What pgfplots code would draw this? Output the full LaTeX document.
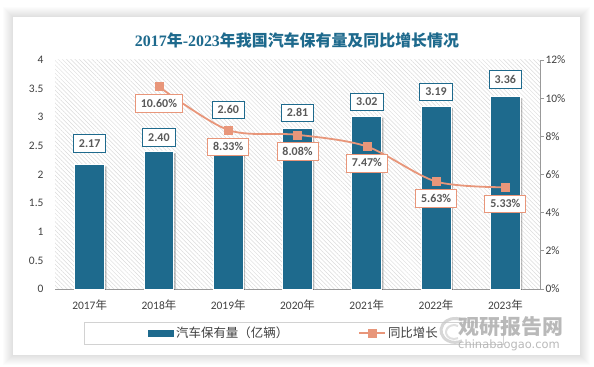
\documentclass[border=0pt]{standalone}
\usepackage{fontspec}
\setmainfont{Carlito}
\newfontfamily\cjk{Noto Sans CJK SC}
\newfontfamily\titlenum{Liberation Serif}
\newfontfamily\wmfont{DejaVu Sans}
\usepackage{pgfplots}
\pgfplotsset{compat=1.18}
\usetikzlibrary{patterns.meta,shadows}
\definecolor{teal1}{HTML}{1E6A8D}
\definecolor{salmon}{HTML}{E8967A}
\definecolor{lblgray}{HTML}{595959}
\definecolor{tickgray}{HTML}{404040}
\tikzset{
  barlbl/.style={draw=teal1, fill=white, line width=0.9bp, text=lblgray,
    font=\fontsize{12}{12}\selectfont\bfseries, inner xsep=5.5bp, inner ysep=4bp,
    text height=8.6bp, text depth=1bp, anchor=south},
  linelbl/.style={draw=salmon, fill=white, line width=0.9bp, text=lblgray,
    font=\fontsize{12}{12}\selectfont\bfseries, inner xsep=5.5bp, inner ysep=4bp,
    text height=8.6bp, text depth=1bp, anchor=north}
}
\begin{document}
\begin{tikzpicture}
\begin{scope}[x=1bp,y=1bp]
\fill[white] (0,0) rectangle (594,366);
\foreach \i in {1,...,10} {\fill[black,opacity=0.012] (13-\i,11-\i) rectangle (580+\i,349+\i);}
\fill[white] (13,11) rectangle (580,349);
\node[text=teal1, font=\fontsize{16}{18}\selectfont\bfseries] at (297,326)
  {{\titlenum 2017}{\cjk 年}{\titlenum -2023}{\cjk 年我国汽车保有量及同比增长情况}};
\end{scope}

\begin{axis}[at={(55bp,77bp)}, anchor=origin, scale only axis,
  width=485bp, height=229bp,
  xmin=0, xmax=7, ymin=0, ymax=4,
  axis background/.style={pattern={Lines[angle=135,distance=3bp,line width=0.5bp]}, pattern color=gray!28},
  axis x line*=bottom, axis y line*=left,
  y axis line style={draw=none},
  x axis line style={draw=gray!80, line width=0.8bp, -},
  major tick length=0pt,
  xtick={0.5,1.5,...,6.5},
  xticklabels={2017{\cjk 年},2018{\cjk 年},2019{\cjk 年},2020{\cjk 年},2021{\cjk 年},2022{\cjk 年},2023{\cjk 年}},
  ytick={0,0.5,...,4},
  yticklabel style={/pgf/number format/assume math mode=true, xshift=-8bp},
  xticklabel style={yshift=-7bp},
  tick label style={font=\fontsize{11.5}{13}\selectfont, text=tickgray},
]
\addplot[ybar, bar width=0.43, fill=teal1, draw=white, line width=0.8bp,
  drop shadow={shadow xshift=2bp, shadow yshift=-1.5bp, opacity=0.25, fill=black}]
  coordinates {(0.5,2.17)(1.5,2.40)(2.5,2.60)(3.5,2.81)(4.5,3.02)(5.5,3.19)(6.5,3.36)};
\node[barlbl, yshift=12bp] at (axis cs:0.5,2.17) {2.17};
\node[barlbl, yshift=5bp] at (axis cs:1.5,2.40) {2.40};
\node[barlbl, yshift=21bp] at (axis cs:2.5,2.60) {2.60};
\node[barlbl, yshift=6bp] at (axis cs:3.5,2.81) {2.81};
\node[barlbl, yshift=5bp] at (axis cs:4.5,3.02) {3.02};
\node[barlbl, yshift=5bp] at (axis cs:5.5,3.19) {3.19};
\node[barlbl, yshift=8bp] at (axis cs:6.5,3.36) {3.36};
\end{axis}

\begin{axis}[at={(55bp,77bp)}, anchor=origin, scale only axis,
  width=485bp, height=229bp,
  xmin=0, xmax=7, ymin=0, ymax=12,
  axis x line*=bottom, axis y line*=right,
  x axis line style={draw=none}, xtick=\empty,
  y axis line style={draw=gray!80, line width=0.8bp, -},
  ytick style={draw=gray!80, line width=0.8bp},
  tick align=outside, major tick length=4bp,
  ytick={0,2,...,12},
  yticklabel={\pgfmathprintnumber{\tick}\%},
  yticklabel style={/pgf/number format/assume math mode=true, xshift=-2bp},
  tick label style={font=\fontsize{11.5}{13}\selectfont, text=tickgray},
  legend style={at={(0.493,-0.192)}, anchor=center, draw=gray!35, line width=0.8bp,
    inner xsep=64bp, inner ysep=3bp,
    font=\cjk\fontsize{12.5}{14}\selectfont, text=tickgray,
    /tikz/every even column/.append style={column sep=68bp}},
  legend columns=2,
]
\addlegendimage{legend image code/.code={\fill[teal1] (0bp,-3bp) rectangle (25bp,3bp);}}
\addlegendentry{汽车保有量（亿辆）}
\addlegendimage{legend image code/.code={\draw[salmon,line width=1.8bp] (0bp,0bp)--(26bp,0bp); \fill[salmon] (9bp,-4bp) rectangle (17bp,4bp);}}
\addlegendentry{同比增长}
\addplot[salmon, line width=1.8bp, smooth, forget plot, mark=square*, mark size=4bp,
  mark options={fill=salmon, draw=salmon, line width=0.5bp}]
  coordinates {(1.5,10.60)(2.5,8.33)(3.5,8.08)(4.5,7.47)(5.5,5.63)(6.5,5.33)};
\node[linelbl, yshift=-7.5bp] at (axis cs:1.5,10.60) {10.60\%};
\node[linelbl, yshift=-7.5bp] at (axis cs:2.5,8.33) {8.33\%};
\node[linelbl, yshift=-7.5bp] at (axis cs:3.5,8.08) {8.08\%};
\node[linelbl, yshift=-7.5bp] at (axis cs:4.5,7.47) {7.47\%};
\node[linelbl, yshift=-7.5bp] at (axis cs:5.5,5.63) {5.63\%};
\node[linelbl, yshift=-7.5bp] at (axis cs:6.5,5.33) {5.33\%};
\end{axis}

\begin{scope}[x=1bp,y=1bp]
\draw[gray!45, line width=3bp, opacity=0.7] (462,46) arc[start angle=60, end angle=300, x radius=14, y radius=12];
\draw[gray!35, line width=2bp, opacity=0.7] (458,40) arc[start angle=60, end angle=300, x radius=8, y radius=7];
\node[text=gray!60, font=\cjk\bfseries\fontsize{21}{22}\selectfont, opacity=0.9] at (511,39) {观研报告网};
\node[text=gray!60, font=\wmfont\fontsize{11.5}{12}\selectfont, opacity=0.9] at (509,21) {chinabaogao.com};
\end{scope}
\end{tikzpicture}
\end{document}
